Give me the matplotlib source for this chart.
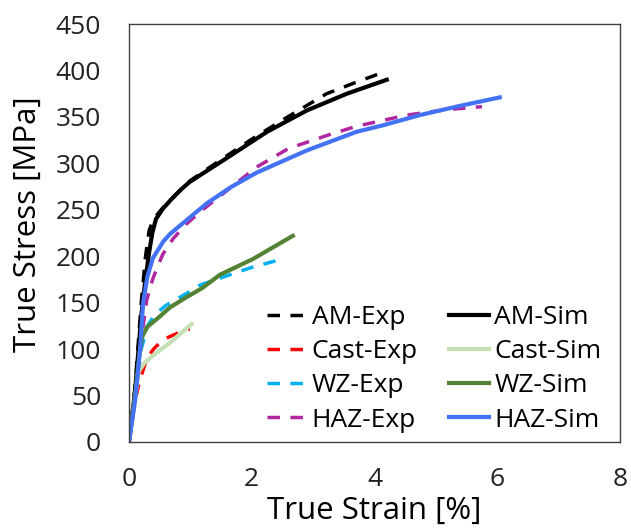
import matplotlib.pyplot as plt

plt.rcParams['font.family'] = ['Open Sans', 'DejaVu Sans']

# strain [%] / stress [MPa]
am_exp_x = [0, 0.1, 0.2, 0.27, 0.33, 0.4, 0.55, 0.7, 0.99, 1.5, 2.0, 2.51, 3.22, 3.65, 4.14]
am_exp_y = [0, 60, 150, 200, 228, 240, 252, 262, 281, 304, 326, 347, 375, 386, 398]
am_sim_x = [0, 0.1, 0.2, 0.26, 0.33, 0.38, 0.44, 0.55, 0.7, 0.85, 0.99, 1.2, 1.53, 2.25, 2.9,
            3.55, 4.2]
am_sim_y = [0, 55, 135, 171, 205, 225, 240, 251, 262, 272, 280, 289, 303, 334, 357,
            375, 390]

cast_exp_x = [0, 0.05, 0.1, 0.18, 0.29, 0.4, 0.55, 0.75, 0.99]
cast_exp_y = [0, 22, 45, 67, 90, 100, 110, 116, 122]
cast_sim_x = [0, 0.1, 0.16, 0.25, 0.39, 0.67, 1.02]
cast_sim_y = [0, 48, 76, 85, 93, 107, 127]

wz_exp_x = [0, 0.1, 0.2, 0.3, 0.42, 0.6, 0.94, 1.16, 1.64, 2.0, 2.5]
wz_exp_y = [0, 48, 100, 125, 137, 147, 160, 169, 180, 188, 197]
wz_sim_x = [0, 0.1, 0.18, 0.22, 0.3, 0.5, 0.67, 0.94, 1.2, 1.48, 2.02, 2.67]
wz_sim_y = [0, 50, 100, 114, 124, 135, 145, 156, 166, 180, 197, 222]

haz_exp_x = [0, 0.08, 0.15, 0.22, 0.29, 0.39, 0.45, 0.55, 0.72, 0.94, 1.2, 1.43, 2.08, 2.6,
             3.27, 3.71, 4.53, 5.2, 5.75]
haz_exp_y = [0, 40, 81, 120, 153, 176, 186, 202, 219, 235, 250, 262, 296, 316,
             331, 340, 352, 358, 361]
haz_sim_x = [0, 0.1, 0.18, 0.23, 0.3, 0.39, 0.56, 0.67, 0.94, 1.27, 1.65, 2.08, 2.9, 3.71,
             4.14, 4.74, 5.4, 6.04]
haz_sim_y = [0, 45, 99, 150, 178, 198, 216, 224, 239, 257, 274, 290, 314, 334,
             341, 352, 362, 371]

fig = plt.figure(figsize=(6.31, 5.28), dpi=100)
ax = fig.add_axes([0.2044, 0.1629, 0.7782, 0.7916])

dash = (0, (3.6, 3.0))
ax.plot(am_exp_x, am_exp_y, color='black', lw=2.5, ls=dash, label='AM-Exp')
ax.plot(cast_exp_x, cast_exp_y, color='#FF0000', lw=2.5, ls=dash, label='Cast-Exp')
ax.plot(wz_exp_x, wz_exp_y, color='#00B0F0', lw=2.5, ls=dash, label='WZ-Exp')
ax.plot(haz_exp_x, haz_exp_y, color='#B0279F', lw=2.5, ls=dash, label='HAZ-Exp')
ax.plot(am_sim_x, am_sim_y, color='black', lw=3, label='AM-Sim')
ax.plot(cast_sim_x, cast_sim_y, color='#C5E0B4', lw=3, label='Cast-Sim')
ax.plot(wz_sim_x, wz_sim_y, color='#548235', lw=3, label='WZ-Sim')
ax.plot(haz_sim_x, haz_sim_y, color='#4472F4', lw=3, label='HAZ-Sim')

ax.set_xlim(0, 8)
ax.set_ylim(0, 450)
ax.set_xticks([0, 2, 4, 6, 8])
ax.set_yticks(range(0, 451, 50))
ax.tick_params(length=0, labelsize=19, colors='#222222')
ax.tick_params(axis='y', pad=20)
ax.tick_params(axis='x', pad=18)
for s in ax.spines.values():
    s.set_color('#404040')
    s.set_linewidth(1)

ax.set_xlabel('True Strain [%]', fontsize=22.5)
ax.set_ylabel('True Stress [MPa]', fontsize=22.5)
ax.xaxis.set_label_coords(0.5, -0.13)
ax.yaxis.set_label_coords(-0.175, 0.52)

ax.legend(ncol=2, loc='upper left', bbox_to_anchor=(0.259, 0.353), frameon=False,
          fontsize=19, handlelength=1.5, handletextpad=0.2, columnspacing=1.2,
          labelspacing=0.35, borderaxespad=0)

fig.savefig('out.png', dpi=100)
